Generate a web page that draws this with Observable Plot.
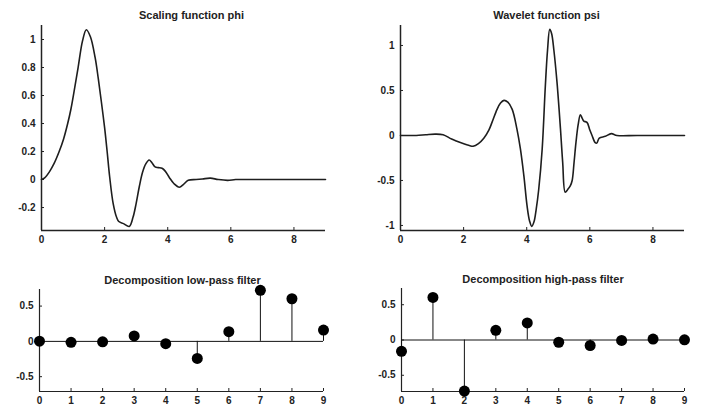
<!DOCTYPE html>
<html><head><meta charset="utf-8">
<script src="https://cdn.jsdelivr.net/npm/d3@7"></script>
<script src="https://cdn.jsdelivr.net/npm/@observablehq/plot@0.6"></script>
<style>
body{margin:0;background:#fff;}
#wrap{position:relative;width:707px;height:412px;overflow:hidden;background:#fff;}
#wrap svg{position:absolute;}
</style></head><body><div id="wrap"></div>
<script>
// Scaling function phi
const phiT = [0, 0.1, 0.25, 0.4, 0.56, 0.7, 0.83, 0.93, 1.01, 1.16, 1.3, 1.42, 1.55, 1.7, 1.8, 1.9, 2.0, 2.08, 2.16, 2.27, 2.38, 2.45, 2.6, 2.78, 2.9, 3.0, 3.1, 3.2, 3.3, 3.41, 3.5, 3.6, 3.7, 3.82, 3.92, 4.05, 4.2, 4.37, 4.5, 4.65, 4.9, 5.1, 5.35, 5.6, 5.9, 6.15, 6.5, 9];
const phiV = [0, 0.012, 0.055, 0.115, 0.2, 0.29, 0.4, 0.5, 0.6, 0.8, 0.99, 1.07, 1.02, 0.87, 0.72, 0.55, 0.37, 0.2, 0.02, -0.17, -0.27, -0.3, -0.315, -0.335, -0.27, -0.17, -0.05, 0.05, 0.11, 0.14, 0.12, 0.09, 0.085, 0.08, 0.06, 0.015, -0.03, -0.055, -0.035, -0.005, 0, 0.004, 0.01, 0, -0.006, 0, 0, 0];
// Wavelet function psi
const psiT = [0, 0.5, 0.8, 1.1, 1.35, 1.62, 1.94, 2.2, 2.3, 2.47, 2.64, 2.8, 2.9, 3.06, 3.17, 3.28, 3.4, 3.54, 3.69, 3.8, 3.91, 4.01, 4.09, 4.16, 4.23, 4.3, 4.38, 4.49, 4.59, 4.66, 4.73, 4.79, 4.86, 4.96, 5.07, 5.14, 5.22, 5.3, 5.38, 5.44, 5.5, 5.56, 5.63, 5.7, 5.76, 5.81, 5.91, 6.0, 6.07, 6.17, 6.22, 6.3, 6.49, 6.68, 6.86, 7.5, 9];
const psiV = [0, 0, 0.008, 0.015, 0.008, -0.04, -0.085, -0.115, -0.12, -0.09, -0.03, 0.06, 0.145, 0.29, 0.36, 0.39, 0.37, 0.29, 0.07, -0.15, -0.45, -0.78, -0.95, -1.01, -0.96, -0.82, -0.6, -0.15, 0.55, 0.95, 1.18, 1.13, 0.95, 0.59, 0.07, -0.3, -0.63, -0.6, -0.56, -0.5, -0.3, -0.08, 0.12, 0.23, 0.19, 0.16, 0.145, 0.06, 0, -0.08, -0.085, -0.03, -0.01, 0.02, 0, 0, 0];
// Filters
const filterIndex = [0, 1, 2, 3, 4, 5, 6, 7, 8, 9];
const lowPass = [0.003, -0.013, -0.006, 0.078, -0.032, -0.242, 0.138, 0.724, 0.604, 0.160];
const highPass = [-0.160, 0.604, -0.724, 0.138, 0.242, -0.032, -0.078, -0.006, 0.013, 0.003];
// Ticks and domains
const xDomain = [0, 9];
const curveTicksX = [0, 2, 4, 6, 8];
const filterTicksX = [0, 1, 2, 3, 4, 5, 6, 7, 8, 9];
const phiTicksY = [-0.2, 0, 0.2, 0.4, 0.6, 0.8, 1];
const psiTicksY = [-1, -0.5, 0, 0.5, 1];
const filterTicksY = [-0.5, 0, 0.5];
const phiDomain = [-0.364, 1.1];
const psiDomain = [-1.056, 1.222];
const lowDomain = [-0.71, 0.735];
const highDomain = [-0.73, 0.73];
const titles = ["Scaling function phi", "Wavelet function psi", "Decomposition low-pass filter", "Decomposition high-pass filter"];

const wrap = document.getElementById("wrap");
const fmt = d => (d < 0 ? "-" : "") + String(Math.abs(d));

function panel({left, top, width, height, mL, mR, mT, mB, yDomain, xTicks, yTicks, marks, title, tdx, tdy, axisW}) {
  const svg = Plot.plot({
    width, height, marginLeft: mL, marginRight: mR, marginTop: mT, marginBottom: mB,
    x: {domain: xDomain},
    y: {domain: yDomain},
    style: {fontFamily: "'Liberation Sans', Arial, sans-serif", fontSize: "10px", fontWeight: "bold", color: "#222", background: "transparent", overflow: "visible"},
    marks: [
      Plot.axisX(xTicks, {tickSize: -3, tickPadding: 8, tickFormat: fmt, label: null, stroke: "#222"}),
      Plot.axisY(yTicks, {tickSize: -3, tickPadding: 9, tickFormat: fmt, label: null, stroke: "#222"}),
      Plot.ruleX([xDomain[0]], {stroke: "#222", strokeWidth: axisW}),
      Plot.ruleY([yDomain[0]], {stroke: "#222", strokeWidth: axisW}),
      ...marks,
      Plot.text([title], {frameAnchor: "top", dx: tdx, dy: tdy, fontWeight: "bold", fontSize: 11, fill: "#222"})
    ]
  });
  svg.style.left = left + "px";
  svg.style.top = top + "px";
  wrap.appendChild(svg);
}

const phiData = phiT.map((t, i) => ({t, v: phiV[i]}));
const psiData = psiT.map((t, i) => ({t, v: psiV[i]}));
const lowData = filterIndex.map((k, i) => ({k, v: lowPass[i]}));
const highData = filterIndex.map((k, i) => ({k, v: highPass[i]}));

const curveStyle = {x: "t", y: "v", stroke: "#1e1e1e", strokeWidth: 1.6, curve: "catmull-rom"};
const stemMarks = data => [
  Plot.ruleY([0], {stroke: "#111", strokeWidth: 1}),
  Plot.ruleX(data, {x: "k", y1: 0, y2: "v", stroke: "#111", strokeWidth: 1}),
  Plot.dot(data, {x: "k", y: "v", r: 5.5, fill: "#000", stroke: "none"})
];

panel({left: 0, top: 0, width: 350, height: 250, mL: 41, mR: 25, mT: 25, mB: 20,
  yDomain: phiDomain, xTicks: curveTicksX, yTicks: phiTicksY,
  marks: [Plot.line(phiData, curveStyle)], title: titles[0], tdx: 8, tdy: -14, axisW: 1.5});
panel({left: 350, top: 0, width: 357, height: 250, mL: 50, mR: 23, mT: 25, mB: 20,
  yDomain: psiDomain, xTicks: curveTicksX, yTicks: psiTicksY,
  marks: [Plot.line(psiData, curveStyle)], title: titles[1], tdx: 4, tdy: -14, axisW: 1.5});
panel({left: 0, top: 260, width: 350, height: 152, mL: 39, mR: 27, mT: 29, mB: 21,
  yDomain: lowDomain, xTicks: filterTicksX, yTicks: filterTicksY,
  marks: stemMarks(lowData), title: titles[2], tdx: 1, tdy: -13, axisW: 1.2});
panel({left: 350, top: 260, width: 357, height: 152, mL: 51, mR: 23, mT: 28, mB: 21,
  yDomain: highDomain, xTicks: filterTicksX, yTicks: filterTicksY,
  marks: stemMarks(highData), title: titles[3], tdx: 0, tdy: -13, axisW: 1.2});
</script></body></html>
